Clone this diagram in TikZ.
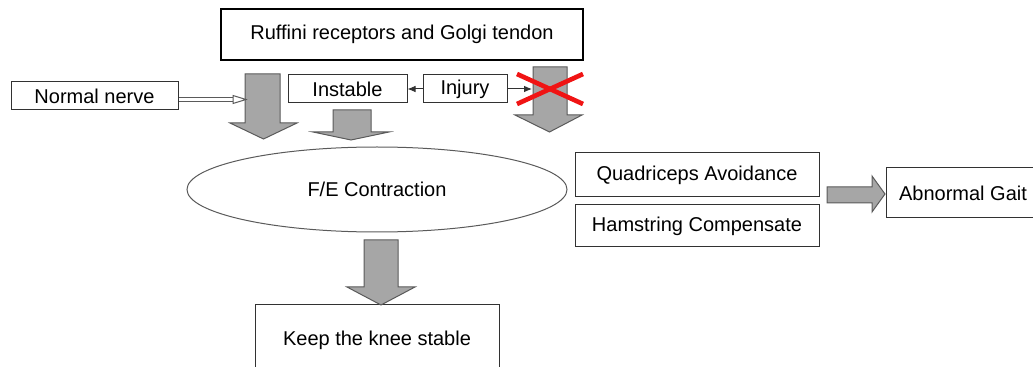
\documentclass[tikz,border=0pt]{standalone}
\usepackage{fontspec}
\setmainfont{Liberation Sans}
\usetikzlibrary{arrows.meta,shapes.geometric,calc}

\definecolor{arrowgray}{RGB}{166,166,166}
\definecolor{arrowedge}{RGB}{90,90,90}
\definecolor{boxedge}{RGB}{50,50,50}
\definecolor{crossred}{RGB}{240,20,20}

\tikzset{every picture/.style={line width=0.75pt}}
\tikzset{
  textbox/.style={draw=boxedge, line width=0.75, rectangle, inner sep=0pt, align=center},
  bigarrow/.style={draw=arrowedge, fill=arrowgray, line width=0.75},
  thinarrow/.style={draw=boxedge, line width=0.75, -{Latex[length=6pt,width=5pt]}}
}

\begin{document}
\begin{tikzpicture}[x=0.75pt,y=0.75pt,yscale=-1,xscale=1]
\fontsize{15}{18}\selectfont
\useasboundingbox (0,0) rectangle (1033,367);
\clip (0,0) rectangle (1033,367);

% Text Nodes (boxes)
\node (ruffini) [textbox, line width=1.5, draw=black, minimum width=271.5pt, minimum height=38.25pt] at (402,34.5) {Ruffini receptors and Golgi tendon};
\node (normal) [textbox, minimum width=125.25pt, minimum height=21pt] at (94.5,96) {Normal nerve};
\node (instable) [textbox, minimum width=89.25pt, minimum height=21pt] at (347.5,89) {Instable};
\node (injury) [textbox, minimum width=63pt, minimum height=21pt] at (465,89) {Injury};
\node (fe) [draw=arrowedge, ellipse, inner sep=0pt, minimum width=285pt, minimum height=63.75pt] at (377,189.5) {F/E Contraction};
\node (quad) [textbox, minimum width=183pt, minimum height=33pt] at (697,175) {Quadriceps Avoidance};
\node (ham) [textbox, minimum width=183pt, minimum height=31.5pt] at (697,226) {Hamstring Compensate};
\node (gait) [textbox, minimum width=115.5pt, minimum height=37.5pt] at (963,193) {Abnormal Gait};
\node (keep) [textbox, minimum width=183pt, minimum height=52.5pt] at (377,340) {Keep the knee stable};

%Shape: Down Arrow [left]
\draw [bigarrow] (245,74) -- (280,74) -- (280,123) -- (297,123) -- (263.5,139) -- (230,123) -- (245,123) -- cycle ;
%Shape: Down Arrow [middle]
\draw [bigarrow] (333,110) -- (371,110) -- (371,132) -- (389,132) -- (351,140) -- (313,132) -- (333,132) -- cycle ;
%Shape: Down Arrow [right]
\draw [bigarrow] (533,67) -- (567,67) -- (567,115) -- (582,115) -- (549.5,132) -- (515,115) -- (533,115) -- cycle ;
%Shape: Down Arrow [below ellipse]
\draw [bigarrow] (364,240) -- (398,240) -- (398,287) -- (415,287) -- (381,305) -- (347,287) -- (364,287) -- cycle ;
%Shape: Right Arrow
\draw [bigarrow] (827,187) -- (872,187) -- (872,176) -- (885,194) -- (872,212) -- (872,203) -- (827,203) -- cycle ;

% connector coordinates
\coordinate (nervebase) at (233,99.5);
\coordinate (nervetip) at (246,99.5);
\coordinate (crosstip) at (532,89);

%Straight Lines [double]
\draw [draw=arrowedge, double, double distance=2.2pt, line width=0.6] (normal.east |- nervebase) -- (nervebase) ;
\draw [draw=arrowedge, fill=white, line width=0.75] (nervetip) -- ($(nervebase)+(0,-4)$) -- ($(nervebase)+(0,4)$) -- cycle ;
%Straight Lines
\draw [thinarrow] (injury.west) -- (instable.east) ;
\draw [thinarrow] (injury.east) -- (crosstip) ;

%Shape: Cross
\draw [crossred, line width=3.5] (517,74) -- (583,104) ;
\draw [crossred, line width=3.5] (517,104) -- (583,74) ;

\end{tikzpicture}
\end{document}
